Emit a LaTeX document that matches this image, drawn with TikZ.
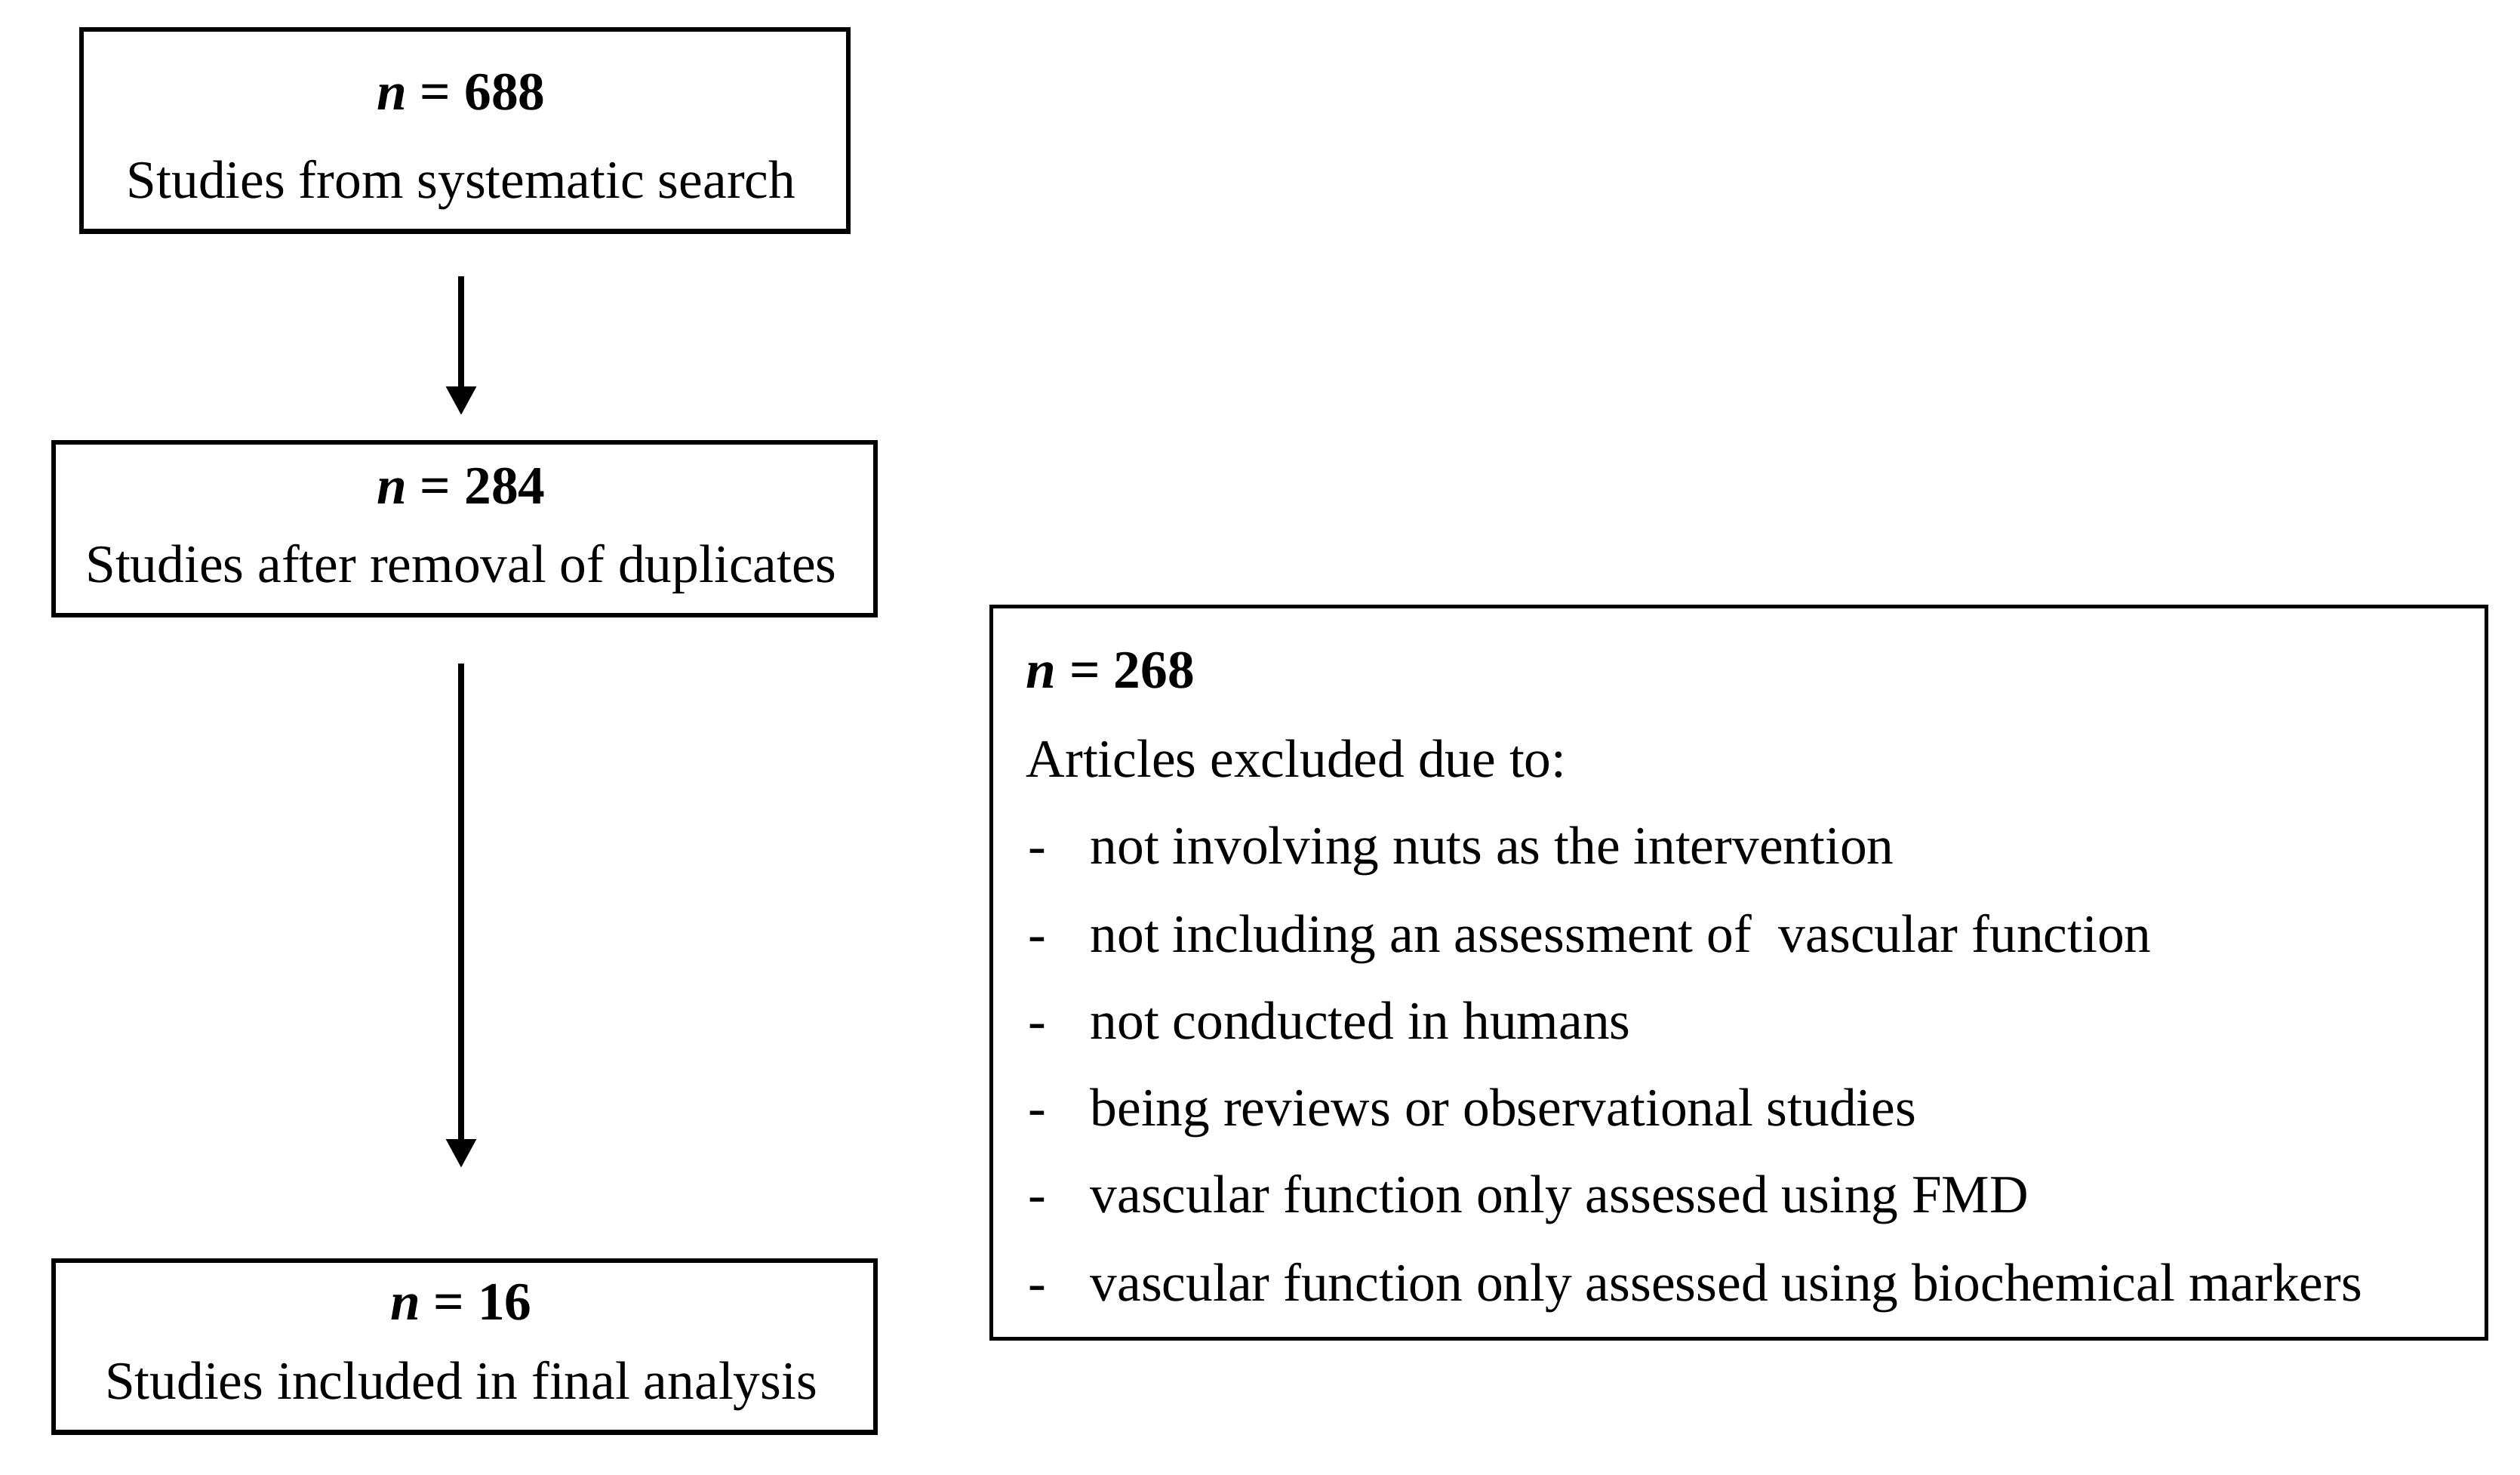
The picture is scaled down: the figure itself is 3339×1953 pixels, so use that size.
\documentclass[tikz,border=0pt]{standalone}
\usepackage{fontspec}
\setmainfont{Liberation Serif}
\usetikzlibrary{arrows.meta}
\begin{document}
\begin{tikzpicture}[x=0.01cm,y=-0.01cm,
  box/.style={draw=black,line width=1.8pt,minimum width=#1,inner sep=0pt,anchor=north west},
  bigbox/.style={draw=black,line width=1.5pt,inner sep=0pt,anchor=north west},
  txt/.style={font=\fontsize{20.3}{24}\selectfont,inner sep=0pt,anchor=base},
  ltxt/.style={font=\fontsize{20.3}{24}\selectfont,inner sep=0pt,anchor=base west},
  flow/.style={line width=2.5pt,-{Triangle[length=0.38cm,width=0.38cm]}}]
\useasboundingbox (0,0) rectangle (3339,1953);
% left column boxes
\node[box=10.15cm,minimum height=2.67cm] (b1) at (105,36) {};
\node[box=10.88cm,minimum height=2.29cm] (b2) at (68,583) {};
\node[box=10.88cm,minimum height=2.27cm] (b3) at (68,1667) {};
\node[txt] (b1n) at (611,145) {\textbf{\textit{n} = 688}};
\node[txt] (b1t) at (611,262) {Studies from systematic search};
\node[txt] (b2n) at (611,667) {\textbf{\textit{n} = 284}};
\node[txt] (b2t) at (611,771) {Studies after removal of duplicates};
\node[txt] (b3n) at (611,1748) {\textbf{\textit{n} = 16}};
\node[txt] (b3t) at (611,1853) {Studies included in final analysis};
% arrows
\coordinate (a1s) at (611,366);
\coordinate (a1e) at (611,550);
\coordinate (a2s) at (611,879);
\coordinate (a2e) at (611,1547);
\draw[flow] (a1s) -- (a1e);
\draw[flow] (a2s) -- (a2e);
% right box
\node[bigbox,minimum width=19.8cm,minimum height=9.69cm] (rb) at (1311,801) {};
\node[ltxt] (rn) at (1359,911) {\textbf{\textit{n} = 268}};
\node[ltxt] (rh) at (1359,1029) {Articles excluded due to:};
\node[ltxt] (d1) at (1362,1144) {-};
\node[ltxt] (i1) at (1444,1144) {not involving nuts as the intervention};
\node[ltxt] (d2) at (1362,1261) {-};
\node[ltxt] (i2) at (1444,1261) {not including an assessment of~ vascular function};
\node[ltxt] (d3) at (1362,1376) {-};
\node[ltxt] (i3) at (1444,1376) {not conducted in humans};
\node[ltxt] (d4) at (1362,1491) {-};
\node[ltxt] (i4) at (1444,1491) {being reviews or observational studies};
\node[ltxt] (d5) at (1362,1606) {-};
\node[ltxt] (i5) at (1444,1606) {vascular function only assessed using FMD};
\node[ltxt] (d6) at (1362,1723) {-};
\node[ltxt] (i6) at (1444,1723) {vascular function only assessed using biochemical markers};
\end{tikzpicture}
\end{document}
